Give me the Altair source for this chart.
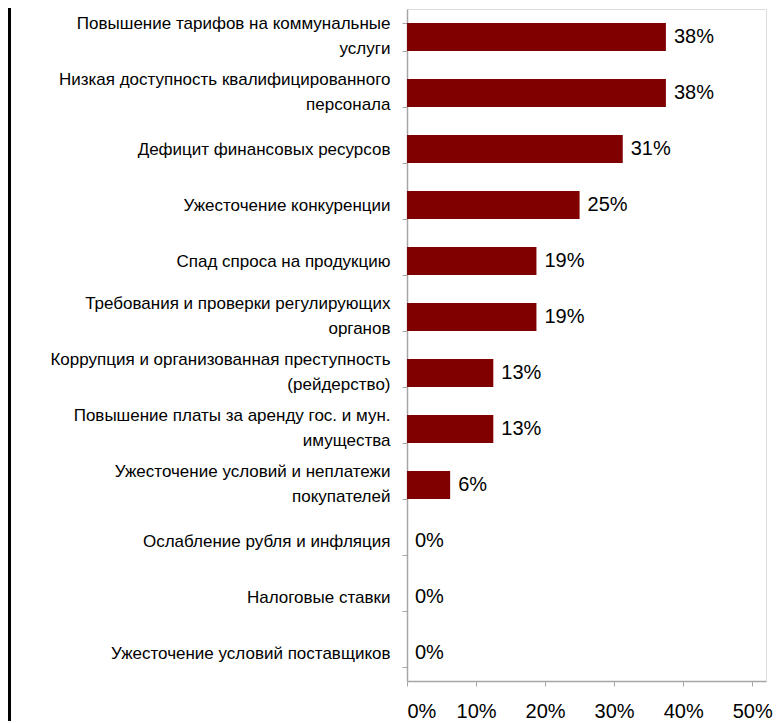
import altair as alt
import pandas as pd

categories = [
    "Повышение тарифов на коммунальные\nуслуги",
    "Низкая доступность квалифицированного\nперсонала",
    "Дефицит финансовых ресурсов",
    "Ужесточение конкуренции",
    "Спад спроса на продукцию",
    "Требования и проверки регулирующих\nорганов",
    "Коррупция и организованная преступность\n(рейдерство)",
    "Повышение платы за аренду гос. и мун.\nимущества",
    "Ужесточение условий и неплатежи\nпокупателей",
    "Ослабление рубля и инфляция",
    "Налоговые ставки",
    "Ужесточение условий поставщиков",
]
values = [0.375, 0.375, 0.3125, 0.25, 0.1875, 0.1875, 0.125, 0.125, 0.0625, 0.0, 0.0, 0.0]
value_labels = ["38%", "38%", "31%", "25%", "19%", "19%", "13%", "13%", "6%", "0%", "0%", "0%"]
x_ticks = [0, 0.1, 0.2, 0.3, 0.4, 0.5]

df = pd.DataFrame({"cat": categories, "val": values, "lab": value_labels})

FONT = "Liberation Sans"
GREY = "#a6a6a6"

y_enc = alt.Y(
    "cat:N",
    sort=None,
    title=None,
    scale=alt.Scale(paddingInner=0.5, paddingOuter=0.25),
    axis=alt.Axis(
        labelExpr="split(datum.label, '\\n')",
        labelFont=FONT,
        labelFontSize=17,
        labelColor="#000000",
        labelLineHeight=25,
        labelPadding=12,
        labelLimit=420,
        labelOffset={
            "condition": {"test": "indexof(datum.label, '\\n') >= 0", "value": -14},
            "value": 0,
        },
        tickBand="extent",
        tickSize=5,
        tickColor=GREY,
        domainColor=GREY,
        domainWidth=1.5,
        grid=False,
    ),
)

x_enc = alt.X(
    "val:Q",
    title=None,
    scale=alt.Scale(domain=[0, 0.52], nice=False, zero=True),
    axis=alt.Axis(
        values=x_ticks,
        format=".0%",
        labelFont=FONT,
        labelFontSize=20,
        labelColor="#000000",
        labelPadding=15,
        tickSize=5,
        tickColor=GREY,
        domainColor=GREY,
        domainWidth=1.5,
        grid=False,
    ),
)

base = alt.Chart(df)

bars = base.mark_bar(color="#800000").encode(x=x_enc, y=y_enc)

texts = base.mark_text(
    align="left", baseline="middle", dx=8, font=FONT, fontSize=20, color="#000000"
).encode(x="val:Q", y=alt.Y("cat:N", sort=None), text="lab:N")

frame = alt.Chart(pd.DataFrame({"a": [0]})).mark_rule(
    color="#000000", strokeWidth=3
).encode(x=alt.value(-397.5), y=alt.value(-20), y2=alt.value(730))

chart = (
    alt.layer(frame, bars, texts)
    .properties(
        width=359,
        height=672,
        autosize=alt.AutoSizeParams(type="none"),
        padding={"left": 399, "top": 1, "right": 10, "bottom": 40},
    )
    .configure_view(stroke=None)
    .configure(background="#ffffff")
)

chart.save("out.html", embed_options={"renderer": "svg", "actions": False})
